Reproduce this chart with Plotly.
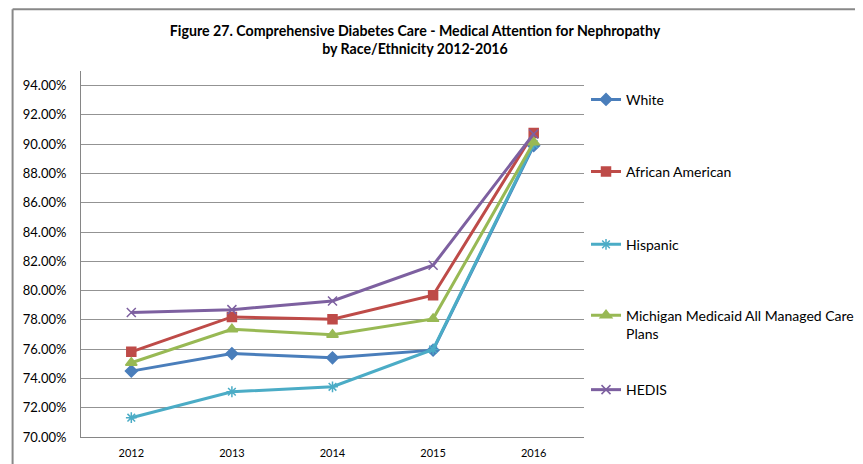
import plotly.graph_objects as go

years = ["2012", "2013", "2014", "2015", "2016"]

white = [0.7450, 0.7570, 0.7541, 0.7593, 0.8990]
african_american = [0.7582, 0.7820, 0.7804, 0.7968, 0.9077]
hispanic = [0.7132, 0.7309, 0.7343, 0.7598, 0.9000]
michigan = [0.7507, 0.7736, 0.7698, 0.7807, 0.9013]
hedis = [0.7850, 0.7870, 0.7929, 0.8173, 0.9070]

series = [
    ("White", white, "#4A7EBB", "diamond", 9),
    ("African American", african_american, "#BE4B48", "square", 9),
    ("Hispanic", hispanic, "#4BACC6", "asterisk-open", 9),
    ("Michigan Medicaid All Managed Care<br>Plans", michigan, "#98B954", "triangle-up", 10),
    ("HEDIS", hedis, "#7D60A0", "x-thin-open", 9),
]

# each series gets its own legend box so the spacing can follow the original
legend_y = [0.965, 0.768, 0.569, 0.375, 0.172]

font = "Lato, 'Open Sans', sans-serif"

fig = go.Figure()

legends = {}
for i, (name, vals, color, sym, size) in enumerate(series):
    key = "legend" if i == 0 else "legend%d" % (i + 1)
    fig.add_trace(go.Scatter(
        x=years, y=vals, name=name, mode="lines+markers",
        legend=key, showlegend=True,
        line=dict(color=color, width=3),
        marker=dict(symbol=sym, size=size, color=color,
                    line=dict(color=color, width=1.5)),
    ))
    legends[key] = dict(
        x=1.004, xanchor="left", y=legend_y[i], yanchor="top",
        font=dict(size=14, family=font), itemwidth=30,
        valign="top", bgcolor="rgba(0,0,0,0)",
    )

# chart border (top and left edges visible in the original)
fig.add_shape(type="line", xref="paper", yref="paper",
              x0=-0.136, x1=1.6, y0=1.169, y1=1.169,
              line=dict(color="#888888", width=2))
fig.add_shape(type="line", xref="paper", yref="paper",
              x0=-0.136, x1=-0.136, y0=1.169, y1=-0.12,
              line=dict(color="#888888", width=2))

fig.update_layout(
    width=863, height=464,
    margin=dict(l=73, r=287, t=63, b=35),
    showlegend=True,
    paper_bgcolor="white", plot_bgcolor="white",
    font=dict(family=font, color="#000000"),
    title=dict(
        text="<b>Figure 27. Comprehensive Diabetes Care - Medical Attention for Nephropathy<br>by Race/Ethnicity 2012-2016</b>",
        x=0.4716, xanchor="center", y=0.9407, yanchor="middle",
        font=dict(size=14.2, family=font),
    ),
    xaxis=dict(
        type="category", range=[-0.5, 4.5],
        showgrid=False, showline=True, linecolor="#868686", linewidth=1,
        ticks="", tickfont=dict(size=11), zeroline=False,
        ticklabelstandoff=6,
    ),
    yaxis=dict(
        range=[0.70, 0.95], dtick=0.02, tick0=0.70, tickformat=".2%",
        showgrid=True, gridcolor="#939393", gridwidth=1,
        showline=True, linecolor="#868686", linewidth=1,
        ticks="", tickfont=dict(size=13), zeroline=False,
        ticklabelstandoff=11,
    ),
    **legends,
)

fig.write_html("out.html")
